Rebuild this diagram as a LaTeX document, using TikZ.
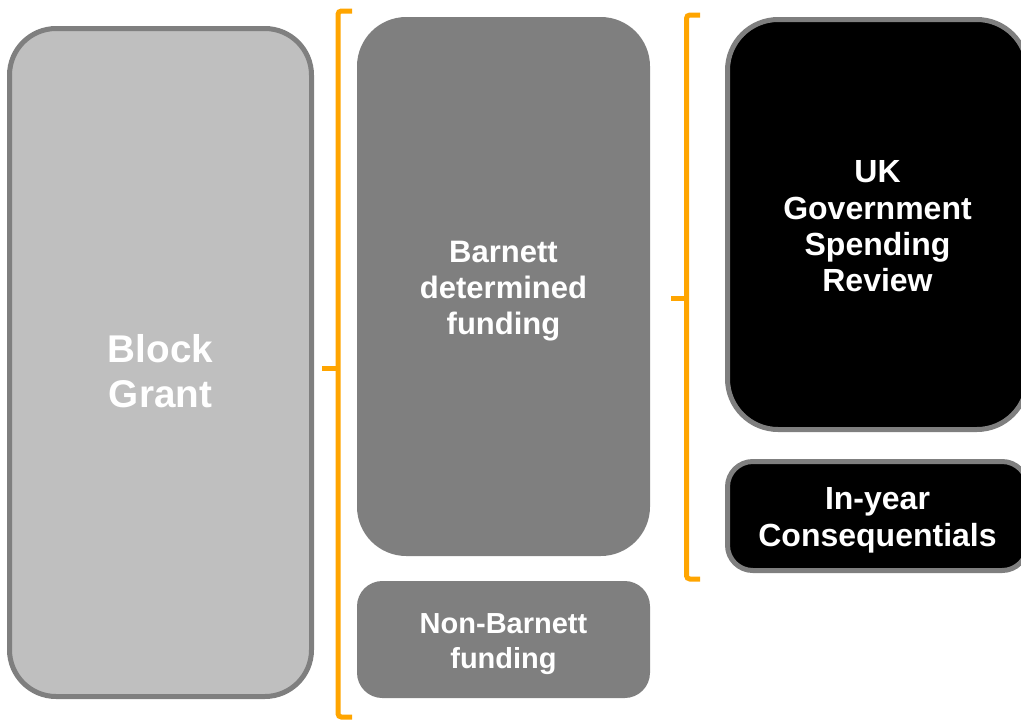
\documentclass[tikz,border=0pt]{standalone}
\usepackage{fontspec}
\setmainfont{Liberation Sans}
\definecolor{lightgrey}{RGB}{191,191,191}
\definecolor{midgrey}{RGB}{127,127,127}
\definecolor{braceorange}{RGB}{255,165,0}
\begin{document}
\begin{tikzpicture}[x=0.75pt,y=-0.75pt]
      \useasboundingbox (0,0) rectangle (1021,722);

      \begin{scope}[every node/.style={rectangle, inner sep=0pt}]
        \node[fill=lightgrey, draw=midgrey, line width=3.75pt, rounded corners=35pt,
          minimum width=226.5pt, minimum height=501pt] (block) at (160.5,362.5) {};
        \node[fill=midgrey, rounded corners=37pt, minimum width=219.75pt, minimum height=404.25pt]
          (barnett) at (503.5,286.5) {};
        \node[fill=midgrey, rounded corners=19pt, minimum width=219.75pt, minimum height=87.75pt]
          (nonbarnett) at (503.5,639.5) {};
        \node[fill=black, draw=midgrey, line width=3.75pt, rounded corners=38pt,
          minimum width=225pt, minimum height=307.5pt] (review) at (877.5,224.5) {};
        \node[fill=black, draw=midgrey, line width=3.75pt, rounded corners=19pt,
          minimum width=225pt, minimum height=81.75pt] (inyear) at (877.5,516) {};
      \end{scope}

      \begin{scope}[every node/.style={text=white, align=center, inner sep=0pt,
          font=\bfseries\fontsize{23.25}{27}\selectfont}]
        \node[font=\bfseries\fontsize{29}{33.75}\selectfont] (blocktext)
          at ([yshift=-6.75pt]block.center) {Block\\Grant};
        \node (barnetttext) at ([yshift=-3.75pt]barnett.center) {Barnett\\determined\\funding};
        \node[font=\bfseries\fontsize{21.75}{26.25}\selectfont] (nonbarnetttext)
          at ([yshift=-3.75pt]nonbarnett.center) {Non-Barnett\\funding};
        \node[font=\bfseries\fontsize{24}{27.25}\selectfont] (reviewtext)
          at ([yshift=-1.5pt]review.center) {UK\\Government\\Spending\\Review};
        \node[font=\bfseries\fontsize{24}{27.75}\selectfont] (inyeartext)
          at ([yshift=-3pt]inyear.center) {In-year\\Consequentials};
      \end{scope}

      \coordinate (b1top) at (352,11);
      \coordinate (b1bot) at (352,717);
      \coordinate (b1mid) at (338,368);
      \coordinate (b1tip) at (322,368);
      \coordinate (b2top) at (700,15);
      \coordinate (b2bot) at (700,579);
      \coordinate (b2mid) at (686.5,298);
      \coordinate (b2tip) at (671,298);

      \begin{scope}[draw=braceorange, line width=3.75pt, rounded corners=2.5pt]
        \draw (b1top) -- (338,11) -- (338,717) -- (b1bot);
        \draw (b1mid) -- (b1tip);
        \draw (b2top) -- (686.5,15) -- (686.5,579) -- (b2bot);
        \draw (b2mid) -- (b2tip);
      \end{scope}

    \end{tikzpicture}
\end{document}
